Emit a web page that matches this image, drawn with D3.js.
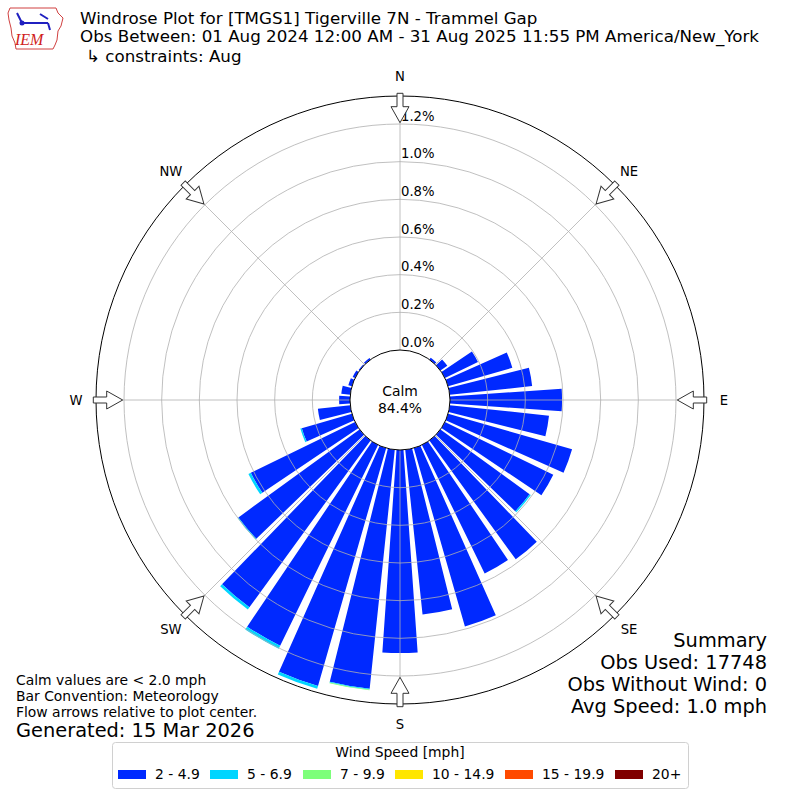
<!DOCTYPE html>
<meta charset="utf-8">
<script src="https://cdn.jsdelivr.net/npm/d3@7"></script>
<style>
  body { margin: 0; background: #fff; }
  text { font-family: "DejaVu Sans", sans-serif; fill: #000; }
</style>
<div id="vis"></div>
<script>
// direction of each bar (degrees, meteorological)
const directions = d3.range(0, 360, 10)
// percent of obs per speed bin, one value per direction
const speed2to5 = [0, 0, 0, 0, 0.012, 0.045, 0.195, 0.355, 0.44, 0.595, 0.53, 0.685,
                   0.64, 0.585, 0.78, 0.76, 0.985, 0.88, 1.078, 1.276, 1.314, 1.186, 1.095, 0.795,
                   0.616, 0.277, 0.173, 0.058, 0.048, 0.02, 0.014, 0.006, 0.01, 0, 0, 0]
const speed5to7 = [0, 0, 0, 0, 0, 0, 0, 0, 0, 0, 0, 0,
                   0, 0.008, 0, 0, 0, 0, 0, 0.004, 0.016, 0.018, 0.014, 0.005,
                   0.014, 0.008, 0, 0, 0, 0, 0, 0, 0, 0, 0, 0]
const speed7to10 = [0, 0, 0, 0, 0, 0, 0, 0, 0, 0, 0, 0,
                    0, 0, 0, 0, 0, 0, 0, 0.004, 0, 0, 0, 0,
                    0, 0, 0, 0, 0, 0, 0, 0, 0, 0, 0, 0]
const binLabels = ["2 - 4.9", "5 - 6.9", "7 - 9.9", "10 - 14.9", "15 - 19.9", "20+"]
const binColors = ["#0029ff", "#00d5ff", "#7dff7a", "#ffe600", "#ff4a00", "#800000"]
const rTicks = [0, 0.2, 0.4, 0.6, 0.8, 1.0, 1.2]
const compass = ["N", "NE", "E", "SE", "S", "SW", "W", "NW"]
const calmPct = "84.4%"
const titleLines = ["Windrose Plot for [TMGS1] Tigerville 7N - Trammel Gap",
  "Obs Between: 01 Aug 2024 12:00 AM - 31 Aug 2025 11:55 PM America/New_York",
  "\u21b3 constraints: Aug"]
const summaryLines = ["Summary", "Obs Used: 17748", "Obs Without Wind: 0", "Avg Speed: 1.0 mph"]
const noteLines = ["Calm values are < 2.0 mph", "Bar Convention: Meteorology", "Flow arrows relative to plot center."]

const width = 800, height = 800
const cx = 400, cy = 400
const small = 13.9   // 10pt
const svg = d3.select("#vis").append("svg").attr("width", width).attr("height", height)

const r = d3.scaleLinear().domain([0, 1.2]).range([50, 276])
const outerR = 304

// stacked bars
const table = directions.map((d, i) => ({dir: d, b0: speed2to5[i], b1: speed5to7[i], b2: speed7to10[i]}))
const stack = d3.stack().keys(["b0", "b1", "b2"])(table)
const half = 4 * Math.PI / 180
const arc = d3.arc()
  .innerRadius(d => r(d[0]))
  .outerRadius(d => r(d[1]))
  .startAngle(d => d.data.dir * Math.PI / 180 - half)
  .endAngle(d => d.data.dir * Math.PI / 180 + half)

const plot = svg.append("g").attr("transform", `translate(${cx},${cy})`)
plot.selectAll("g.layer")
  .data(stack)
  .enter().append("g")
    .attr("fill", (d, i) => binColors[i])
  .selectAll("path")
  .data(d => d.filter(s => s[1] - s[0] > 0))
  .enter().append("path")
    .attr("d", arc)

// grid
plot.selectAll("circle.ring")
  .data(rTicks.slice(1))
  .enter().append("circle")
    .attr("r", d => r(d))
    .attr("fill", "none")
    .attr("stroke", "#b0b0b0")
    .attr("stroke-width", 0.8)
plot.selectAll("line.spoke")
  .data(d3.range(0, 360, 45))
  .enter().append("line")
    .attr("x1", d => r(0) * Math.sin(d * Math.PI / 180))
    .attr("y1", d => -r(0) * Math.cos(d * Math.PI / 180))
    .attr("x2", d => outerR * Math.sin(d * Math.PI / 180))
    .attr("y2", d => -outerR * Math.cos(d * Math.PI / 180))
    .attr("stroke", "#b0b0b0")
    .attr("stroke-width", 0.8)
plot.append("circle").attr("r", outerR).attr("fill", "none").attr("stroke", "#000").attr("stroke-width", 1)
plot.append("circle").attr("r", r(0)).attr("fill", "#fff").attr("stroke", "#000").attr("stroke-width", 1)

// radial tick labels
plot.selectAll("text.rtick")
  .data(rTicks)
  .enter().append("text")
    .attr("x", 1)
    .attr("y", d => -r(d) - 8)
    .attr("dy", "0.35em")
    .attr("font-size", 13.2)
    .text(d => d.toFixed(1) + "%")

// compass labels
plot.selectAll("text.compass")
  .data(compass)
  .enter().append("text")
    .attr("x", (d, i) => 324 * Math.sin(i * Math.PI / 4))
    .attr("y", (d, i) => -324 * Math.cos(i * Math.PI / 4))
    .attr("dy", "0.35em")
    .attr("text-anchor", "middle")
    .attr("font-size", 13.2)
    .text(d => d)

// flow arrows pointing toward center
const arrowPts = [[-3, -306.7], [3, -306.7], [3, -293.3], [9, -293.3], [0, -277.3], [-9, -293.3], [-3, -293.3]]
plot.selectAll("polygon.arrow")
  .data(d3.range(0, 360, 45))
  .enter().append("polygon")
    .attr("points", arrowPts.map(p => p.join(",")).join(" "))
    .attr("transform", d => `rotate(${d})`)
    .attr("fill", "#fff")
    .attr("stroke", "#333")
    .attr("stroke-width", 1)

plot.append("text").attr("y", -9).attr("dy", "0.35em").attr("text-anchor", "middle")
  .attr("font-size", small).text("Calm")
plot.append("text").attr("y", 8).attr("dy", "0.35em").attr("text-anchor", "middle")
  .attr("font-size", small).text(calmPct)

// titles
const titleY = [24, 42, 61.5]
svg.selectAll("text.title")
  .data(titleLines)
  .enter().append("text")
    .attr("x", (d, i) => i == 2 ? 86 : 80)
    .attr("y", (d, i) => titleY[i])
    .attr("font-size", 16.7)
    .text(d => d)

// logo
const logo = svg.append("g")
logo.append("path")
  .attr("d", "M10,8 L56,8 L58,13 L63,18 L61,26 L58,31 L57,40 L55,45 L53,49 L16,49 L15,43 L12,36 L11,28 L9,20 L8,13 Z")
  .attr("fill", "none").attr("stroke", "#d04040").attr("stroke-width", 1)
logo.append("line").attr("x1", 22).attr("y1", 23).attr("x2", 48).attr("y2", 23)
  .attr("stroke", "#2020c0").attr("stroke-width", 2)
logo.append("path").attr("d", "M17,13 L22,23 M40,14 L48,19 M48,23 L50,30")
  .attr("stroke", "#2020c0").attr("stroke-width", 2).attr("fill", "none")
logo.append("circle").attr("cx", 22).attr("cy", 23).attr("r", 2.5).attr("fill", "#2020c0")
logo.append("text").attr("x", 15).attr("y", 45)
  .style("font-family", "'Liberation Serif', serif").style("font-style", "italic")
  .style("fill", "#d02020").attr("font-size", 16).text("IEM")

// summary
svg.selectAll("text.summary")
  .data(summaryLines)
  .enter().append("text")
    .attr("x", 767)
    .attr("y", (d, i) => 647 + i * 22)
    .attr("text-anchor", "end")
    .attr("font-size", 19.4)
    .text(d => d)

// notes
svg.selectAll("text.note")
  .data(noteLines)
  .enter().append("text")
    .attr("x", 16)
    .attr("y", (d, i) => 685 + i * 16)
    .attr("font-size", small)
    .text(d => d)
svg.append("text").attr("x", 16).attr("y", 737).attr("font-size", 19.4).text("Generated: 15 Mar 2026")

// legend
const legendX = [118, 210, 303, 395, 505, 615]
const legend = svg.append("g")
legend.append("rect")
  .attr("x", 112.5).attr("y", 742.5).attr("width", 576).attr("height", 46).attr("rx", 3)
  .attr("fill", "#fff").attr("stroke", "#d0d0d0")
legend.append("text").attr("x", 400).attr("y", 757).attr("text-anchor", "middle")
  .attr("font-size", small).text("Wind Speed [mph]")
const items = legend.selectAll("g.item")
  .data(binLabels)
  .enter().append("g")
    .attr("transform", (d, i) => `translate(${legendX[i]},0)`)
items.append("rect").attr("width", 28).attr("height", 9).attr("y", 770)
  .attr("fill", (d, i) => binColors[i])
items.append("text").attr("x", 37).attr("y", 779).attr("font-size", small).text(d => d)
</script>
